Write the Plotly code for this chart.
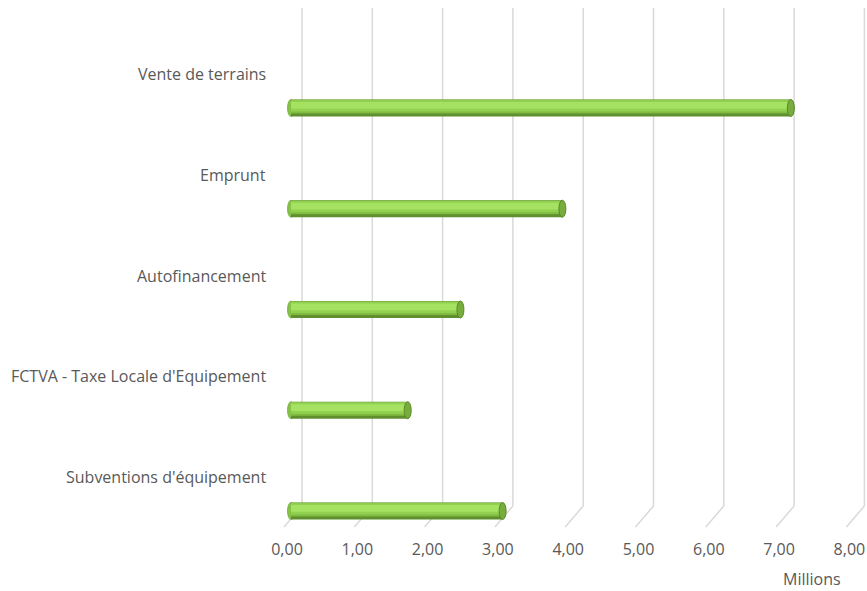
import plotly.graph_objects as go

categories = ["Subventions d'équipement", "FCTVA - Taxe Locale d'Equipement",
              "Autofinancement", "Emprunt", "Vente de terrains"]
values = [3.01, 1.66, 2.41, 3.86, 7.11]  # millions
tick_values = [0, 1, 2, 3, 4, 5, 6, 7, 8]
tick_labels = ["0,00", "1,00", "2,00", "3,00", "4,00", "5,00", "6,00", "7,00", "8,00"]

W, H = 867, 591
ZERO_PX = 291
ML, MR, MT, MB = 240, 0, 0, 61
px_per_unit = 70.3
plot_w = W - ML - MR
x0 = -(ZERO_PX - ML) / px_per_unit
x_range = [x0, x0 + plot_w / px_per_unit]

bar_px0 = 511  # pixel y of category 0 center
step = 100.75
plot_h = H - MT - MB
y_top = bar_px0 / step
y_bot = -(plot_h - bar_px0) / step
ypix = lambda p: (bar_px0 - p) / step

ys = list(range(len(categories)))
fig = go.Figure()

# gridlines (3D look: back vertical line + diagonal to front floor)
back_off = 11 / px_per_unit
front_off = -7 / px_per_unit
for t in tick_values:
    fig.add_shape(type="line", x0=t + back_off, x1=t + back_off, y0=ypix(8), y1=ypix(506),
                  line=dict(color="#d9d9d9", width=1.5), layer="below")
    fig.add_shape(type="line", x0=t + back_off, x1=t + front_off, y0=ypix(506), y1=ypix(527),
                  line=dict(color="#d9d9d9", width=1.5), layer="below")

bw = 17 / step
layers = [
    (0.0, 1.0, "#5f8f2e"),
    (0.18, 0.80, "#80bb40"),
    (0.30, 0.66, "#92d050"),
    (0.45, 0.40, "#a5e262"),
]
cap = 3.5 / px_per_unit
for i, v in enumerate(values):
    # left rounded start
    fig.add_shape(type="circle", x0=-cap, x1=cap, y0=i - bw / 2, y1=i + bw / 2,
                  fillcolor="#86c246", line=dict(color="#74a83a", width=0.8), layer="below")
for off, w, col in layers:
    fig.add_trace(go.Bar(
        x=values, y=ys, orientation="h", width=w * bw, offset=-bw / 2 + off * bw,
        marker=dict(color=col, line=dict(width=0)), hoverinfo="skip", showlegend=False))

for i, v in enumerate(values):
    # right end cap
    fig.add_shape(type="circle", x0=v - cap, x1=v + cap, y0=i - bw / 2, y1=i + bw / 2,
                  fillcolor="#78ac3c", line=dict(color="#5a8a2a", width=1), layer="above")

for i, c in enumerate(categories):
    fig.add_annotation(x=0, y=i, xref="x", yref="y", text=c, showarrow=False,
                       xanchor="right", yanchor="middle", xshift=-23, yshift=34,
                       font=dict(family="Open Sans", size=16, color="#595959"))

fig.add_annotation(x=1, y=0, xref="paper", yref="paper", text="Millions", showarrow=False,
                   xanchor="right", yanchor="middle", xshift=-24, yshift=-49,
                   font=dict(family="Open Sans", size=16, color="#595959"))

fig.update_layout(
    width=W, height=H, margin=dict(l=ML, r=MR, t=MT, b=MB),
    paper_bgcolor="white", plot_bgcolor="white", barmode="overlay",
    xaxis=dict(range=x_range, showgrid=False, zeroline=False, showline=False,
               tickvals=[t - 4 / px_per_unit for t in tick_values],
               ticktext=tick_labels, ticks="", ticklabelstandoff=8,
               tickfont=dict(family="Open Sans", size=16, color="#595959")),
    yaxis=dict(range=[y_bot, y_top], showgrid=False, zeroline=False, showline=False,
               showticklabels=False, ticks=""),
    font=dict(family="Open Sans"),
)
fig.write_html("out.html")
